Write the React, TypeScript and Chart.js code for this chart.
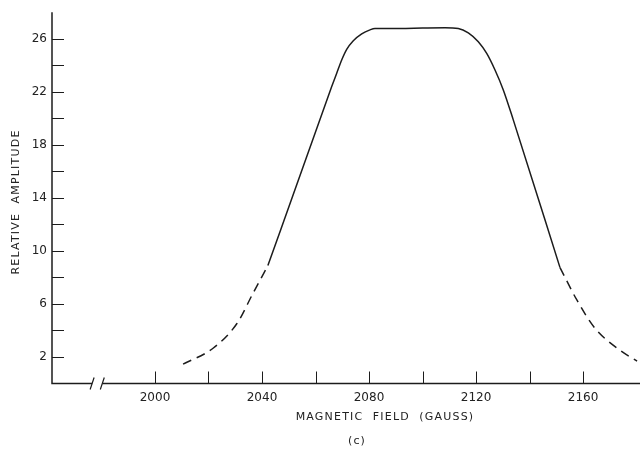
import React, { useEffect, useRef } from "react";
import { Chart, registerables } from "chart.js";

Chart.register(...registerables);

// Left dashed segment (extrapolated)
const leftDashX = [2010.5, 2021.7, 2030.7, 2036.6, 2042.2];
const leftDashY = [1.46, 2.66, 4.54, 6.79, 8.89];

// Solid measured segment
const solidX = [
  2042.2, 2056.8, 2066.06, 2067.93, 2069.79, 2071.66, 2074.13, 2077.27, 2080.37, 2082.24,
  2091.59, 2100.0, 2108.41, 2113.38, 2117.12, 2120.86, 2124.0, 2127.1, 2130.2, 2133.9, 2151.4,
];
const solidY = [
  8.89, 17.15, 22.39, 23.4, 24.4, 25.2, 25.85, 26.37, 26.67, 26.77,
  26.77, 26.8, 26.82, 26.77, 26.44, 25.77, 24.89, 23.64, 22.14, 19.9, 8.74,
];

// Right dashed segment (extrapolated)
const rightDashX = [2151.4, 2157.8, 2164.5, 2173.8, 2180.2];
const rightDashY = [8.74, 6.26, 4.16, 2.51, 1.69];

const xTickValues = [2000, 2020, 2040, 2060, 2080, 2100, 2120, 2140, 2160];
const xTickLabels = ["2000", "", "2040", "", "2080", "", "2120", "", "2160"];
const yTickValues = [2, 4, 6, 8, 10, 12, 14, 16, 18, 20, 22, 24, 26];
const yTickLabels = ["2", "", "6", "", "10", "", "14", "", "18", "", "22", "", "26"];

const xMin = 1961.5;
const xMax = 2181.3;
const yMin = 0;
const yMax = 28;
const breakStart = 1976.5;
const breakEnd = 1980.3;

const xTitle = "MAGNETIC  FIELD  (GAUSS)";
const yTitle = "RELATIVE  AMPLITUDE";
const caption = "(c)";

const toPts = (xs: number[], ys: number[]) => xs.map((x, i) => ({ x, y: ys[i] }));

const INK = "#1c1c1c";

export default function App() {
  const ref = useRef<HTMLCanvasElement | null>(null);

  useEffect(() => {
    if (!ref.current) return;
    const axesPlugin = {
      id: "sketchAxes",
      afterDraw(chart: any) {
        const { ctx, chartArea, scales } = chart;
        const { left, right, top, bottom } = chartArea;
        const xs = scales.x;
        const ys = scales.y;
        ctx.save();
        ctx.strokeStyle = INK;
        ctx.lineWidth = 1.5;
        ctx.beginPath();
        ctx.moveTo(left, top);
        ctx.lineTo(left, bottom + 0.75);
        const b1 = xs.getPixelForValue(breakStart);
        const b2 = xs.getPixelForValue(breakEnd);
        ctx.moveTo(left, bottom);
        ctx.lineTo(b1, bottom);
        ctx.moveTo(b2, bottom);
        ctx.lineTo(right, bottom);
        ctx.stroke();
        ctx.lineWidth = 1.2;
        ctx.beginPath();
        ctx.moveTo(b1 - 2, bottom + 6);
        ctx.lineTo(b1 + 2, bottom - 6);
        ctx.moveTo(b2 - 2, bottom + 6);
        ctx.lineTo(b2 + 2, bottom - 6);
        ctx.stroke();
        ctx.lineWidth = 1;
        ctx.beginPath();
        ys.ticks.forEach((t: any) => {
          const py = Math.round(ys.getPixelForValue(t.value)) + 0.5;
          ctx.moveTo(left, py);
          ctx.lineTo(left + 12, py);
        });
        xs.ticks.forEach((t: any) => {
          const px = Math.round(xs.getPixelForValue(t.value)) + 0.5;
          ctx.moveTo(px, bottom);
          ctx.lineTo(px, bottom - 12);
        });
        ctx.stroke();

        ctx.fillStyle = "#222";
        ctx.font = '11px "DejaVu Sans"';
        (ctx as any).letterSpacing = "1.2px";
        ctx.textAlign = "center";
        ctx.textBaseline = "middle";
        ctx.fillText(xTitle, 385, 417);
        ctx.fillText(caption, 357, 441);
        ctx.translate(16, 202);
        ctx.rotate(-Math.PI / 2);
        ctx.fillText(yTitle, 0, 0);
        ctx.restore();
      },
    };

    const chart = new Chart(ref.current, {
      type: "line",
      data: {
        datasets: [
          {
            data: toPts(leftDashX, leftDashY),
            borderColor: INK,
            borderWidth: 1.5,
            borderDash: [9, 6],
            pointRadius: 0,
            cubicInterpolationMode: "monotone",
            fill: false,
          },
          {
            data: toPts(solidX, solidY),
            borderColor: INK,
            borderWidth: 1.5,
            pointRadius: 0,
            cubicInterpolationMode: "monotone",
            fill: false,
          },
          {
            data: toPts(rightDashX, rightDashY),
            borderColor: INK,
            borderWidth: 1.5,
            borderDash: [9, 6],
            pointRadius: 0,
            cubicInterpolationMode: "monotone",
            fill: false,
          },
        ],
      },
      options: {
        animation: false,
        responsive: false,
        events: [],
        clip: false as any,
        layout: { padding: { top: 10, right: 3, left: 0, bottom: 0 } },
        plugins: { legend: { display: false }, tooltip: { enabled: false }, title: { display: false } },
        scales: {
          x: {
            type: "linear",
            min: xMin,
            max: xMax,
            afterBuildTicks: (s: any) => {
              s.ticks = xTickValues.map((v) => ({ value: v }));
            },
            afterFit: (s: any) => {
              s.height = 76.5;
            },
            grid: { display: false, drawTicks: false },
            border: { display: false },
            ticks: {
              autoSkip: false,
              maxRotation: 0,
              padding: 7,
              color: "#222",
              font: { family: "DejaVu Sans", size: 12 },
              callback: (v: any) => {
                const i = xTickValues.indexOf(Number(v));
                return i >= 0 ? xTickLabels[i] : "";
              },
            },
          },
          y: {
            type: "linear",
            min: yMin,
            max: yMax,
            afterBuildTicks: (s: any) => {
              s.ticks = yTickValues.map((v) => ({ value: v }));
            },
            afterFit: (s: any) => {
              s.width = 52;
            },
            grid: { display: false, drawTicks: false },
            border: { display: false },
            ticks: {
              autoSkip: false,
              padding: 5,
              color: "#222",
              font: { family: "DejaVu Sans", size: 12 },
              callback: (v: any) => {
                const i = yTickValues.indexOf(Number(v));
                return i >= 0 ? yTickLabels[i] : "";
              },
            },
          },
        },
      },
      plugins: [axesPlugin],
    } as any);
    return () => chart.destroy();
  }, []);

  return (
    <div style={{ position: "fixed", left: 0, top: 0, width: 643, height: 460, background: "#fff" }}>
      <canvas ref={ref} width={643} height={460} style={{ display: "block" }} />
    </div>
  );
}
